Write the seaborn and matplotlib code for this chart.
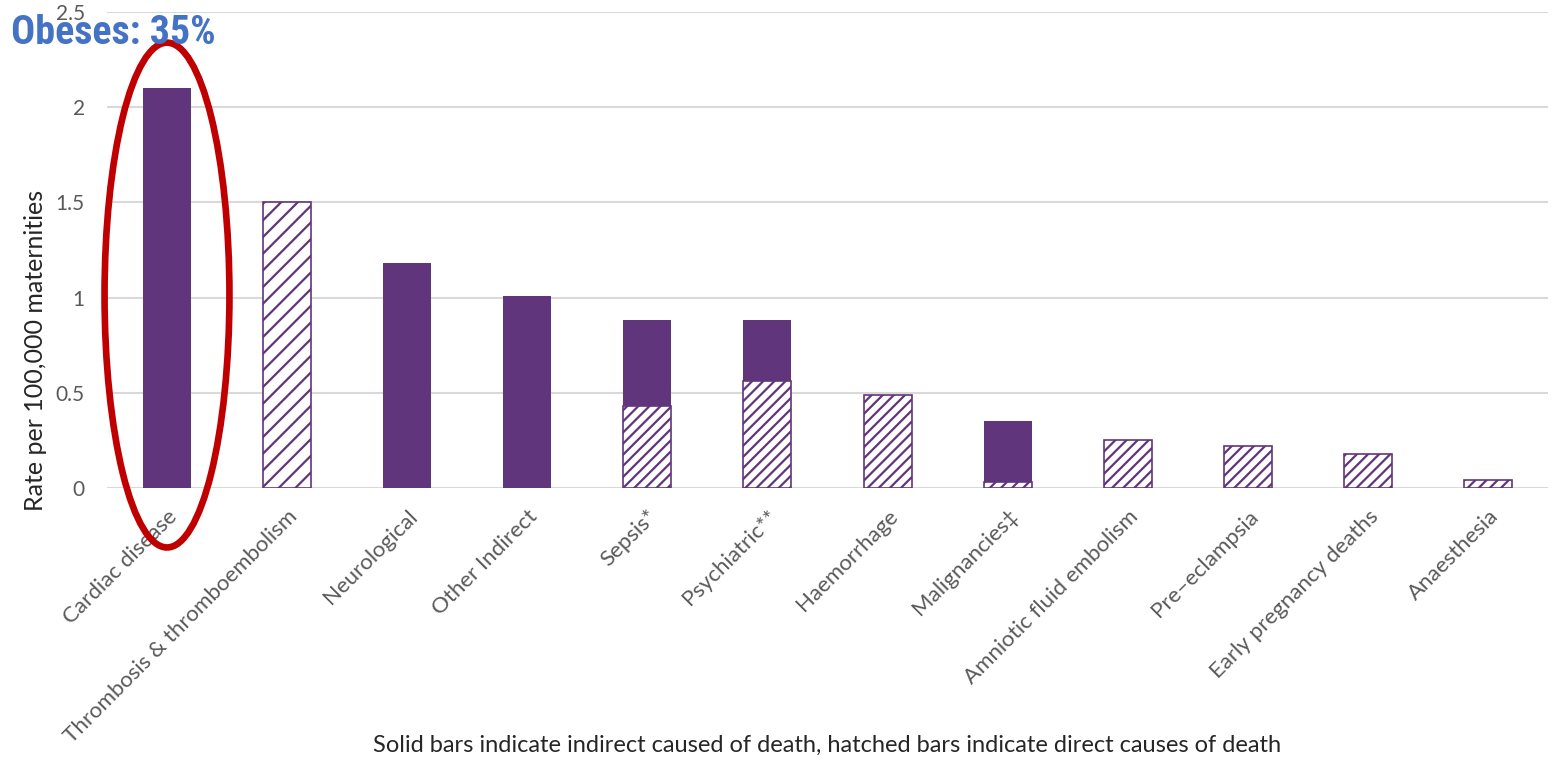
import matplotlib
matplotlib.use("Agg")
import matplotlib.pyplot as plt
import seaborn as sns
import numpy as np
from matplotlib.patches import Ellipse

categories = ["Cardiac disease", "Thrombosis & thromboembolism", "Neurological",
              "Other Indirect", "Sepsis*", "Psychiatric**", "Haemorrhage",
              "Malignancies\u2021", "Amniotic fluid embolism", "Pre\u2013eclampsia",
              "Early pregnancy deaths", "Anaesthesia"]
direct = [0, 1.50, 0, 0, 0.43, 0.56, 0.49, 0.03, 0.25, 0.22, 0.18, 0.04]
indirect = [2.10, 0, 1.18, 1.01, 0.45, 0.32, 0, 0.32, 0, 0, 0, 0]
yticks = [0, 0.5, 1, 1.5, 2, 2.5]
ytick_labels = ["0", "0.5", "1", "1.5", "2", "2.5"]

purple = "#61357B"
sns.set_theme(style="white")
plt.rcParams["font.family"] = ["Lato", "DejaVu Sans"]
plt.rcParams["hatch.linewidth"] = 1.6
plt.rcParams["hatch.color"] = purple

fig = plt.figure(figsize=(15.59, 7.61), dpi=100)
ax = fig.add_axes([0.0686, 0.3587, 0.9244, 0.6258])

sns.barplot(x=categories, y=direct, color="white", saturation=1, width=0.4,
            edgecolor=purple, linewidth=1.2, hatch="///", ax=ax, zorder=3)
n = len(categories)
for i, (p, v) in enumerate(zip(ax.patches[:n], direct)):
    if v == 0:
        p.set_visible(False)
    if i == 1:
        p.set_hatch("//")
sns.barplot(x=categories, y=indirect, bottom=direct, color=purple, saturation=1,
            width=0.4, linewidth=0, ax=ax, zorder=3)
for p, v in zip(ax.patches[n:], indirect):
    if v == 0:
        p.set_visible(False)

ax.set_ylim(0, 2.5)
ax.set_xlim(-0.5, n - 0.5)
ax.set_yticks(yticks)
ax.set_yticklabels(ytick_labels)
ax.yaxis.grid(True, color="#d9d9d9", linewidth=1.5, zorder=0)
ax.set_axisbelow(True)
for s in ax.spines.values():
    s.set_visible(False)
ax.tick_params(axis="y", length=0, pad=16, labelsize=15, labelcolor="#595959")
ax.tick_params(axis="x", length=0, pad=13, labelsize=16, labelcolor="#595959")
plt.setp(ax.get_xticklabels(), rotation=45, ha="right", rotation_mode="anchor")

ax.set_ylabel("Rate per 100,000 maternities", fontsize=18, color="#262626")
ax.yaxis.set_label_coords(-0.0416, 0.288)
ax.set_xlabel("Solid bars indicate indirect caused of death, hatched bars indicate direct causes of death",
              fontsize=17, color="#262626")
ax.xaxis.set_label_coords(0.5, -0.518)

ell = Ellipse((0, 1.013), width=1.04, height=2.65, fill=False, edgecolor="#C00000",
              linewidth=4.8, clip_on=False, zorder=10)
ax.add_patch(ell)

title = fig.text(0.007, 0.942, "Obeses: 35%", fontsize=30, fontweight="bold", color="#4472C4",
                 family=["Roboto Condensed", "DejaVu Sans"], fontstretch="condensed",
                 ha="left", va="baseline", zorder=20)
fig.canvas.draw()
w = title.get_window_extent().width
if w > 205:
    title.set_fontsize(30 * 205 / w)

fig.savefig("out.png", dpi=100, facecolor="white")
